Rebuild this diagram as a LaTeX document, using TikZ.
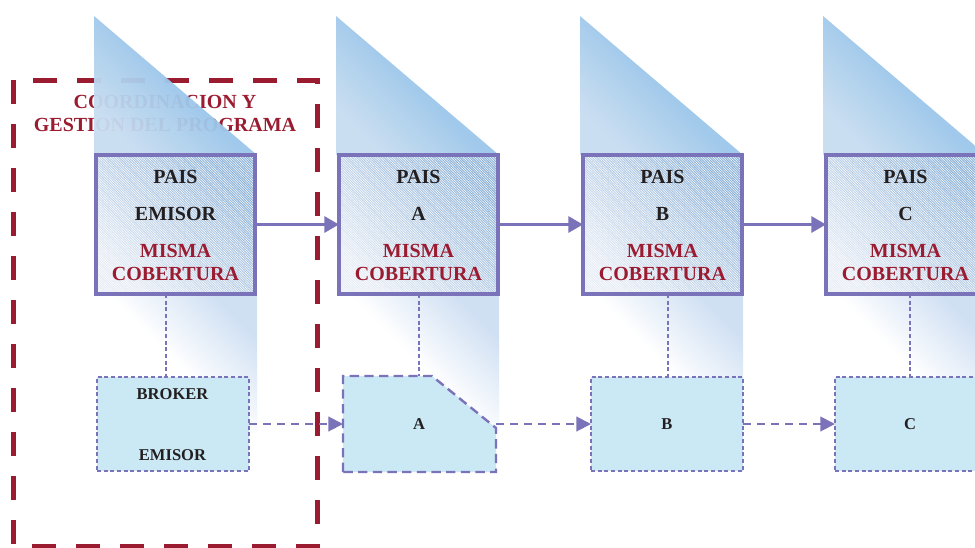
\documentclass[tikz,border=0pt]{standalone}
\usepackage{fontspec}
\setmainfont{Liberation Serif}[BoldFont={Liberation Serif Bold}]
\usetikzlibrary{arrows.meta,patterns.meta,calc}
\definecolor{pur}{RGB}{123,115,185}
\definecolor{dred}{RGB}{155,27,48}
\definecolor{lcyan}{RGB}{202,233,245}
\definecolor{triblue}{RGB}{157,199,234}
\definecolor{trilight}{RGB}{200,221,241}
\definecolor{boxtop}{RGB}{140,177,215}
\definecolor{boxbot}{RGB}{230,236,245}
\definecolor{shblue}{RGB}{208,224,243}
\definecolor{txt}{RGB}{35,31,32}
\begin{document}
\begin{tikzpicture}[x=0.75pt,y=-0.75pt,
  pbox/.style={minimum width=119.25pt,minimum height=104.25pt,
    inner sep=0pt,outer sep=0pt,top color=boxtop,bottom color=boxbot,shading angle=-45,
    postaction={pattern={Lines[angle=-45,distance=1.3pt,line width=0.35pt]},pattern color=white,fill opacity=0.3},
    postaction={draw=pur,line width=3pt}},
  lbox/.style={draw=pur,fill=lcyan,line width=0.9pt,dash pattern=on 3pt off 2pt,
    minimum width=114pt,minimum height=70.5pt,inner sep=0pt,outer sep=0pt},
  ghost/.style={minimum width=114.75pt,minimum height=72pt,inner sep=0pt,outer sep=0pt},
  redframe/.style={draw=dred,line width=3.75pt,dash pattern=on 18pt off 15pt},
  tri/.style={top color=triblue,bottom color=trilight,middle color=triblue,shading angle=-45,opacity=0.95},
  under/.style={top color=shblue,bottom color=white,middle color=white,shading angle=-45},
  big/.style={font=\bfseries\fontsize{15}{15}\selectfont,inner sep=0pt,anchor=base},
  small/.style={font=\bfseries\fontsize{12.4}{12.4}\selectfont,text=txt,inner sep=0pt,anchor=base},
  flow/.style={draw=pur,line width=2.2pt,-{Triangle[length=11pt,width=12pt]}},
  dflow/.style={draw=pur,line width=1.5pt,dash pattern=on 6pt off 4.5pt,-{Triangle[length=11pt,width=11pt]}},
  vline/.style={draw=pur,line width=0.9pt,dash pattern=on 3pt off 2pt}]
\useasboundingbox (0,0) rectangle (975,547);
\fill[white] (0,0) rectangle (975,547);
% red frame and title
\draw[redframe] (13.5,80) rectangle (317,546);
\node[big,text=dred] (t1) at (165,108) {COORDINACION Y};
\node[big,text=dred] (t2) at (165,131) {GESTION DEL PROGRAMA};
% triangles and shadings
\foreach \L in {94,336,580,823}{
  \shade[tri] (\L,16) -- (\L,155) -- (\L+163,155) -- cycle;
  \shade[under] (\L,294) rectangle (\L+163,432);
}
% vertical connectors helpers
\coordinate (v0) at (166,0);
\coordinate (v1) at (419,0);
\coordinate (v2) at (668,0);
\coordinate (v3) at (910,0);
% lower boxes
\node[lbox] (l0) at (173,424) {};
\node[ghost] (l1) at (419.5,424) {};
\fill[lcyan] (l1.south west) -- (l1.north west) -- ([xshift=-48pt]l1.north east) -- ([yshift=-39pt]l1.north east) -- (l1.south east) -- cycle;
\draw[draw=pur,line width=1.8pt,dash pattern=on 7pt off 4pt] (l1.south west) -- (l1.north west) -- ([xshift=-48pt]l1.north east) -- ([yshift=-39pt]l1.north east) -- (l1.south east) -- cycle;
\node[lbox] (l2) at (667,424) {};
\node[lbox] (l3) at (911,424) {};
\node[small] (b1) at (172.5,399) {BROKER};
\node[small] (b2) at (172.5,460) {EMISOR};
\node[small] (la) at (419,429) {A};
\node[small] (lb) at (667,429) {B};
\node[small] (lc) at (910,429) {C};
% upper boxes
\node[pbox] (p0) at (175.5,224.5) {};
\node[pbox] (p1) at (418.5,224.5) {};
\node[pbox] (p2) at (662.5,224.5) {};
\node[pbox] (p3) at (905.5,224.5) {};
\foreach \c/\n/\w in {175.5/0/EMISOR,418.5/1/A,662.5/2/B,905.5/3/C}{
  \node[big,text=txt] (pa\n) at (\c,183) {PAIS};
  \node[big,text=txt] (pb\n) at (\c,220) {\w};
  \node[big,text=dred] (pc\n) at (\c,257) {MISMA};
  \node[big,text=dred] (pd\n) at (\c,280) {COBERTURA};
}
% vertical dashed connectors
\draw[vline] (p0.south -| v0) -- (l0.north -| v0);
\draw[vline] (p1.south -| v1) -- (l1.north -| v1);
\draw[vline] (p2.south -| v2) -- (l2.north -| v2);
\draw[vline] (p3.south -| v3) -- (l3.north -| v3);
% arrows
\draw[flow] (p0.east) -- (p1.west);
\draw[flow] (p1.east) -- (p2.west);
\draw[flow] (p2.east) -- (p3.west);
\draw[dflow] (l0.east) -- (l1.west);
\draw[dflow] (l1.east) -- (l2.west);
\draw[dflow] (l2.east) -- (l3.west);
\end{tikzpicture}
\end{document}
